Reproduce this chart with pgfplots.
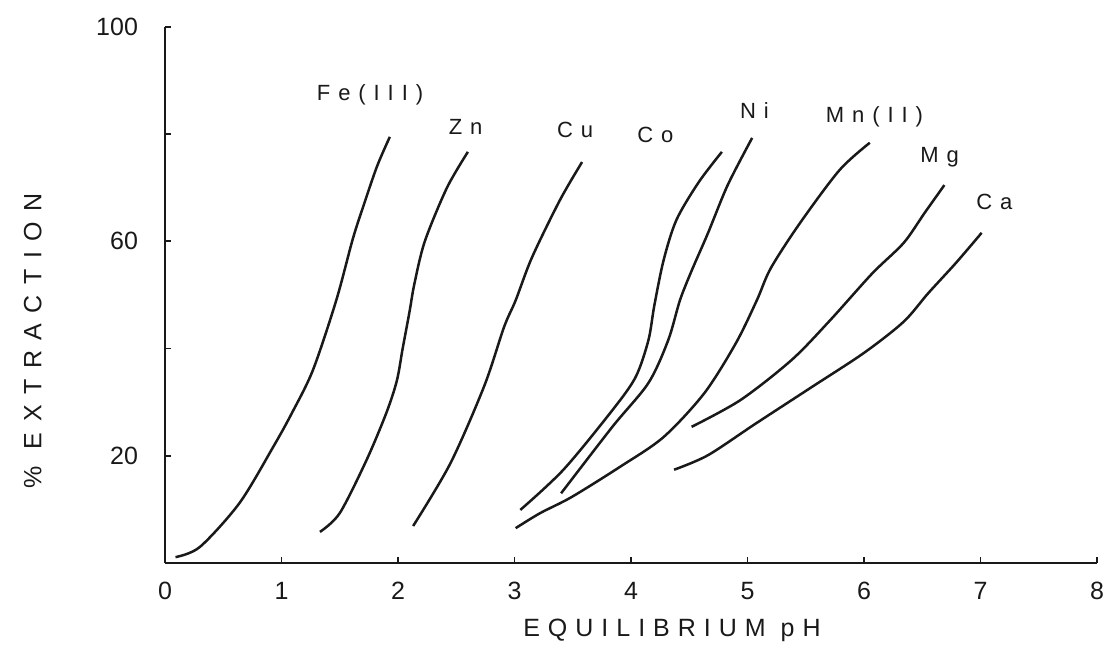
\documentclass[border=0pt]{standalone}
\usepackage{fontspec}
\setmainfont{Liberation Sans}
\newfontfamily\spacedfont[LetterSpace=32]{Liberation Sans}
\newfontfamily\yspacedfont[LetterSpace=42]{Liberation Sans}
\newfontfamily\curvefont[LetterSpace=36]{Liberation Sans}
\usepackage{pgfplots}
\pgfplotsset{compat=1.18}
\definecolor{ink}{RGB}{25,25,25}
\pgfplotsset{curve/.style={ink, solid, line width=1.25pt, smooth, tension=0.5, mark=none}}
\begin{document}
\begin{tikzpicture}
\begin{axis}[
  at={(0,0)}, anchor=south west,
  scale only axis, width=466pt, height=268pt,
  xmin=0, xmax=8, ymin=0, ymax=100,
  axis lines=left,
  axis line style={-, line width=1pt, ink},
  tick align=inside,
  major tick length=3pt,
  tick style={line width=0.9pt, ink},
  xtick={0,1,2,3,4,5,6,7,8},
  xticklabels={0,1,2,3,4,5,6,7,8},
  ytick={20,40,60,80,100},
  yticklabels={20,,60,,100},
  /pgf/number format/assume math mode=true,
  ticklabel style={font=\fontsize{12.5}{14}\selectfont, text=ink},
  xticklabel style={yshift=-6pt},
  yticklabel style={xshift=-10pt},
  xlabel={\spacedfont\fontsize{12.5}{14}\selectfont EQUILIBRIUM pH},
  ylabel={\yspacedfont\fontsize{12.5}{14}\selectfont \% EXTRACTION},
  xlabel style={at={(axis description cs:0.544,-0.125)}, anchor=center, text=ink},
  ylabel style={at={(axis description cs:-0.142,0.414)}, anchor=center, rotate=0, text=ink},
  clip=false,
]
% Fe(III)
\addplot[curve] coordinates {(0.09,1.1) (0.30,3) (0.64,11.2) (0.93,21.7) (1.09,28) (1.27,36) (1.47,49) (1.61,60.3) (1.70,66.4) (1.82,74) (1.93,79.5)};
% Zn
\addplot[curve] coordinates {(1.33,5.8) (1.50,9.3) (1.73,19.2) (1.90,28) (1.99,34) (2.04,40) (2.10,47) (2.14,52) (2.23,60) (2.42,70) (2.60,76.7)};
% Cu
\addplot[curve] coordinates {(2.13,6.9) (2.45,18.6) (2.74,33) (2.91,44) (3.01,49) (3.15,57) (3.39,67.7) (3.58,74.8)};
% Co
\addplot[curve] coordinates {(3.05,9.9) (3.42,17.4) (3.84,28.5) (4.04,34.7) (4.15,41.6) (4.20,48) (4.28,56.5) (4.39,64) (4.58,71) (4.78,76.7)};
% Ni
\addplot[curve] coordinates {(3.40,13) (3.84,25.4) (4.15,33.6) (4.32,41.6) (4.42,49) (4.52,54.5) (4.66,61.5) (4.83,70.5) (5.04,79.3)};
% Mn(II)
\addplot[curve] coordinates {(3.01,6.5) (3.22,9.3) (3.49,12.3) (3.91,18) (4.28,23.5) (4.63,31.7) (4.90,41) (5.08,49) (5.20,55) (5.45,63.4) (5.79,73.3) (6.05,78.4)};
% Mg
\addplot[curve] coordinates {(4.52,25.4) (4.94,30.4) (5.38,37.9) (5.71,45.3) (6.07,54) (6.34,59.7) (6.52,65.3) (6.69,70.5)};
% Ca
\addplot[curve] coordinates {(4.37,17.4) (4.66,20.1) (5.07,26) (5.55,32.8) (6.0,39.2) (6.34,45) (6.55,50.3) (6.79,56) (7.01,61.6)};
\begin{scope}[every node/.style={font=\curvefont\fontsize{11}{13}\selectfont, text=ink}]
\node at (axis cs:1.76,87.3) {Fe(III)};
\node at (axis cs:2.58,81.3) {Zn};
\node at (axis cs:3.52,80.8) {Cu};
\node at (axis cs:4.21,79.9) {Co};
\node at (axis cs:5.06,84.5) {Ni};
\node at (axis cs:6.09,83.2) {Mn(II)};
\node at (axis cs:6.65,75.7) {Mg};
\node at (axis cs:7.12,67.3) {Ca};
\end{scope}
\end{axis}
\pgfresetboundingbox
\useasboundingbox (-82.5pt,-46.5pt) rectangle (469.5pt,281.5pt);
\end{tikzpicture}
\end{document}
